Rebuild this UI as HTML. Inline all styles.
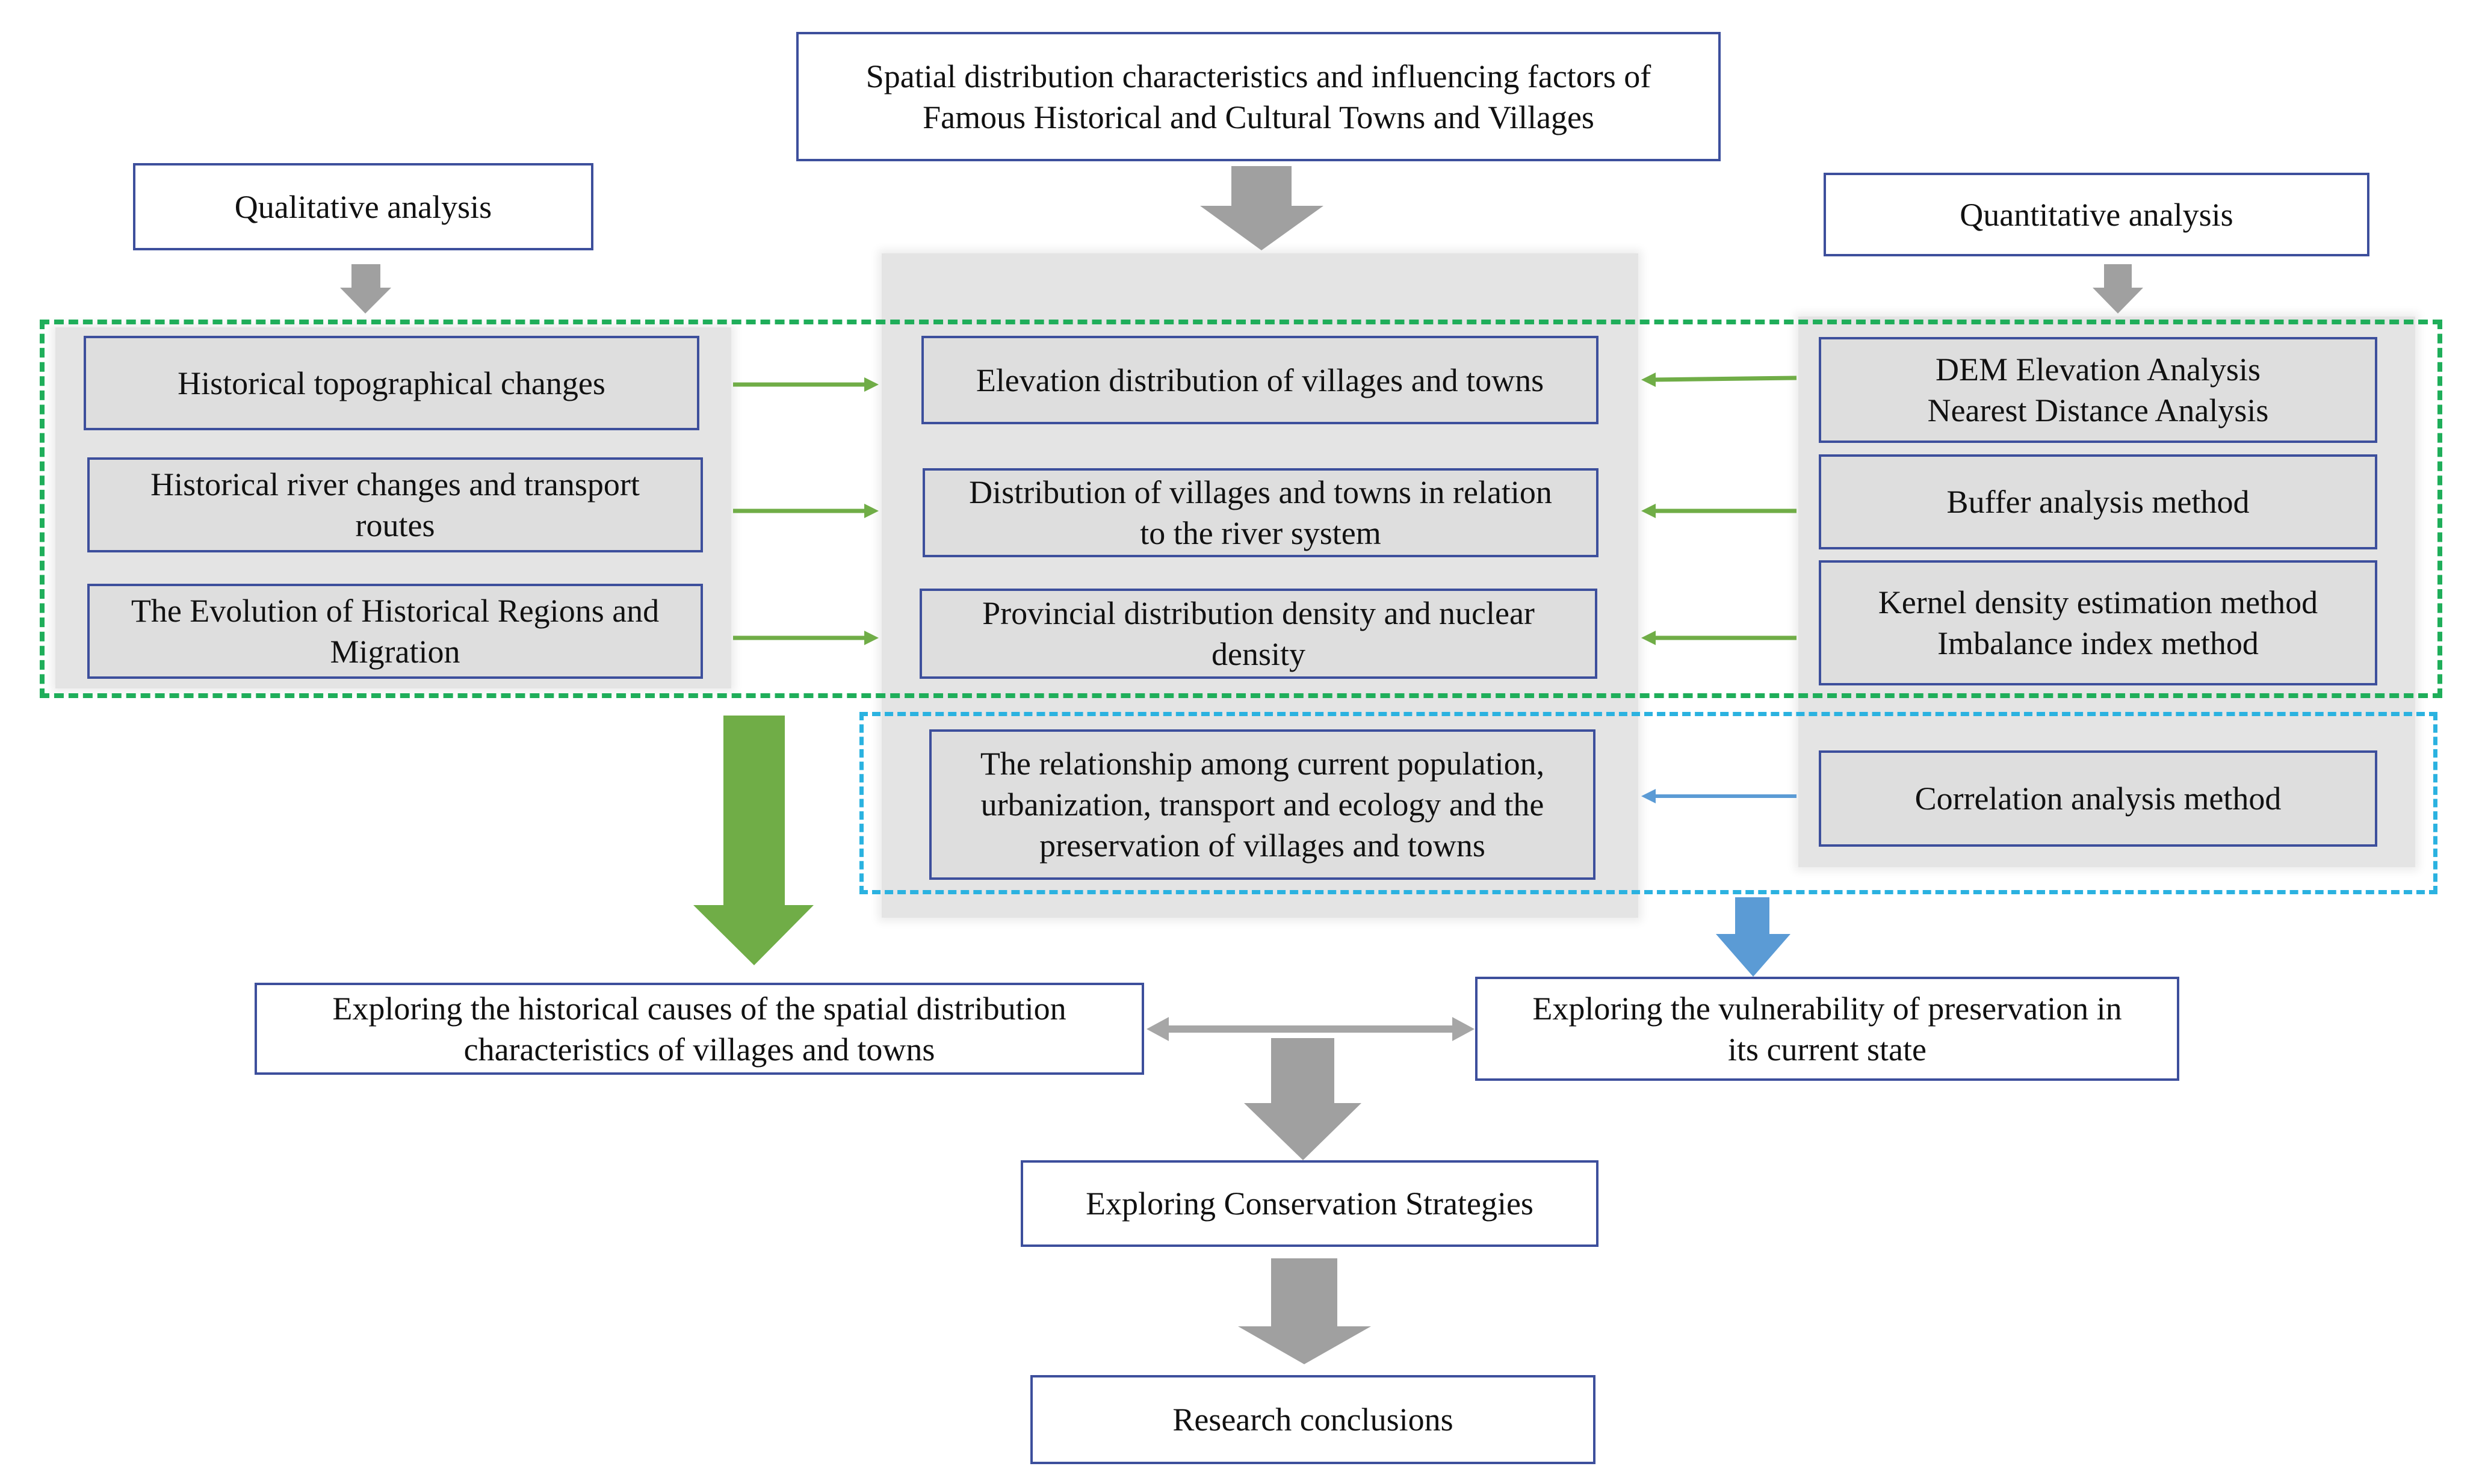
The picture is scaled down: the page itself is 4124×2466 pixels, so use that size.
<!DOCTYPE html>
<html><head><meta charset="utf-8"><style>
body{margin:0;width:4124px;height:2466px;background:#fff;position:relative;overflow:hidden;font-family:"Liberation Serif","Times New Roman","DejaVu Serif",serif;color:#111}
.b{position:absolute;box-sizing:border-box;border:4px solid #3d4f9c;display:flex;align-items:center;justify-content:center;text-align:center;font-family:"Liberation Serif","Times New Roman","DejaVu Serif",serif;font-size:54px;line-height:68px;background:#fff}
.g{background:#dedede}
.p{position:absolute;background:#e4e4e4;box-shadow:0 0 14px 6px #ececec}
.d{position:absolute;box-sizing:border-box}
svg{position:absolute;left:0;top:0}
</style></head><body>
<div class="p" style="left:92px;top:544px;width:1123px;height:600px"></div>
<div class="p" style="left:1465px;top:421px;width:1257px;height:1104px"></div>
<div class="p" style="left:2988px;top:526px;width:1025px;height:915px"></div>
<div class="d" style="left:66px;top:531px;width:3992px;height:629px;border:8px dashed #1fae5a"></div>
<div class="d" style="left:1428px;top:1183px;width:2622px;height:303px;border:7px dashed #2bb2e0"></div>

<div class="b" style="left:1323px;top:53px;width:1536px;height:215px">Spatial distribution characteristics and influencing factors of<br>Famous Historical and Cultural Towns and Villages</div>
<div class="b" style="left:221px;top:271px;width:765px;height:145px">Qualitative analysis</div>
<div class="b" style="left:3030px;top:287px;width:907px;height:139px">Quantitative analysis</div>

<div class="b g" style="left:139px;top:558px;width:1023px;height:157px">Historical topographical changes</div>
<div class="b g" style="left:145px;top:760px;width:1023px;height:158px">Historical river changes and transport<br>routes</div>
<div class="b g" style="left:145px;top:970px;width:1023px;height:158px">The Evolution of Historical Regions and<br>Migration</div>

<div class="b g" style="left:1531px;top:558px;width:1125px;height:147px">Elevation distribution of villages and towns</div>
<div class="b g" style="left:1533px;top:778px;width:1123px;height:148px">Distribution of villages and towns in relation<br>to the river system</div>
<div class="b g" style="left:1528px;top:978px;width:1126px;height:150px">Provincial distribution density and nuclear<br>density</div>
<div class="b g" style="left:1544px;top:1212px;width:1107px;height:250px">The relationship among current population,<br>urbanization, transport and ecology and the<br>preservation of villages and towns</div>

<div class="b g" style="left:3022px;top:560px;width:928px;height:176px">DEM Elevation Analysis<br>Nearest Distance Analysis</div>
<div class="b g" style="left:3022px;top:755px;width:928px;height:158px">Buffer analysis method</div>
<div class="b g" style="left:3022px;top:931px;width:928px;height:208px">Kernel density estimation method<br>Imbalance index method</div>
<div class="b g" style="left:3022px;top:1247px;width:928px;height:160px">Correlation analysis method</div>

<div class="b" style="left:423px;top:1633px;width:1478px;height:153px">Exploring the historical causes of the spatial distribution<br>characteristics of villages and towns</div>
<div class="b" style="left:2451px;top:1623px;width:1170px;height:173px">Exploring the vulnerability of preservation in<br>its current state</div>
<div class="b" style="left:1696px;top:1928px;width:960px;height:144px">Exploring Conservation Strategies</div>
<div class="b" style="left:1712px;top:2285px;width:939px;height:148px">Research conclusions</div>

<svg width="4124" height="2466">
<g fill="#a0a0a0">
<polygon points="2046,276 2146,276 2146,342 2199,342 2096,416 1994,342 2046,342"/>
<polygon points="584,439 632,439 632,478 650,478 607,521 565,478 584,478"/>
<polygon points="3496,439 3542,439 3542,478 3561,478 3519,521 3477,478 3496,478"/>
<polygon points="2112,1725 2217,1725 2217,1833 2262,1833 2165,1928 2067,1833 2112,1833"/>
<polygon points="2112,2091 2222,2091 2222,2204 2278,2204 2167,2267 2057,2204 2112,2204"/>
</g>
<polygon fill="#70ad47" points="1202,1189 1304,1189 1304,1504 1352,1504 1253,1604 1152,1504 1202,1504"/>
<polygon fill="#5b9bd5" points="2883,1491 2940,1491 2940,1552 2975,1552 2913,1623 2851,1552 2883,1552"/>
<g stroke="#70ad47" stroke-width="7" fill="#70ad47">
<line x1="1218" y1="639" x2="1440" y2="639"/><polygon points="1460,639 1436,627 1436,651" stroke="none"/>
<line x1="1218" y1="849" x2="1440" y2="849"/><polygon points="1460,849 1436,837 1436,861" stroke="none"/>
<line x1="1218" y1="1060" x2="1440" y2="1060"/><polygon points="1460,1060 1436,1048 1436,1072" stroke="none"/>
<line x1="2985" y1="628" x2="2745" y2="631"/><polygon points="2727,631 2751,619 2751,643" stroke="none"/>
<line x1="2985" y1="849" x2="2745" y2="849"/><polygon points="2727,849 2751,837 2751,861" stroke="none"/>
<line x1="2985" y1="1060" x2="2745" y2="1060"/><polygon points="2727,1060 2751,1048 2751,1072" stroke="none"/>
</g>
<g stroke="#5b9bd5" stroke-width="6" fill="#5b9bd5">
<line x1="2985" y1="1323" x2="2745" y2="1323"/><polygon points="2727,1323 2751,1311 2751,1335" stroke="none"/>
</g>
<g stroke="#a6a6a6" stroke-width="12" fill="#a6a6a6">
<line x1="1940" y1="1710" x2="2420" y2="1710"/>
<polygon points="1905,1710 1942,1690 1942,1730" stroke="none"/>
<polygon points="2450,1710 2413,1690 2413,1730" stroke="none"/>
</g>
</svg>
</body></html>
